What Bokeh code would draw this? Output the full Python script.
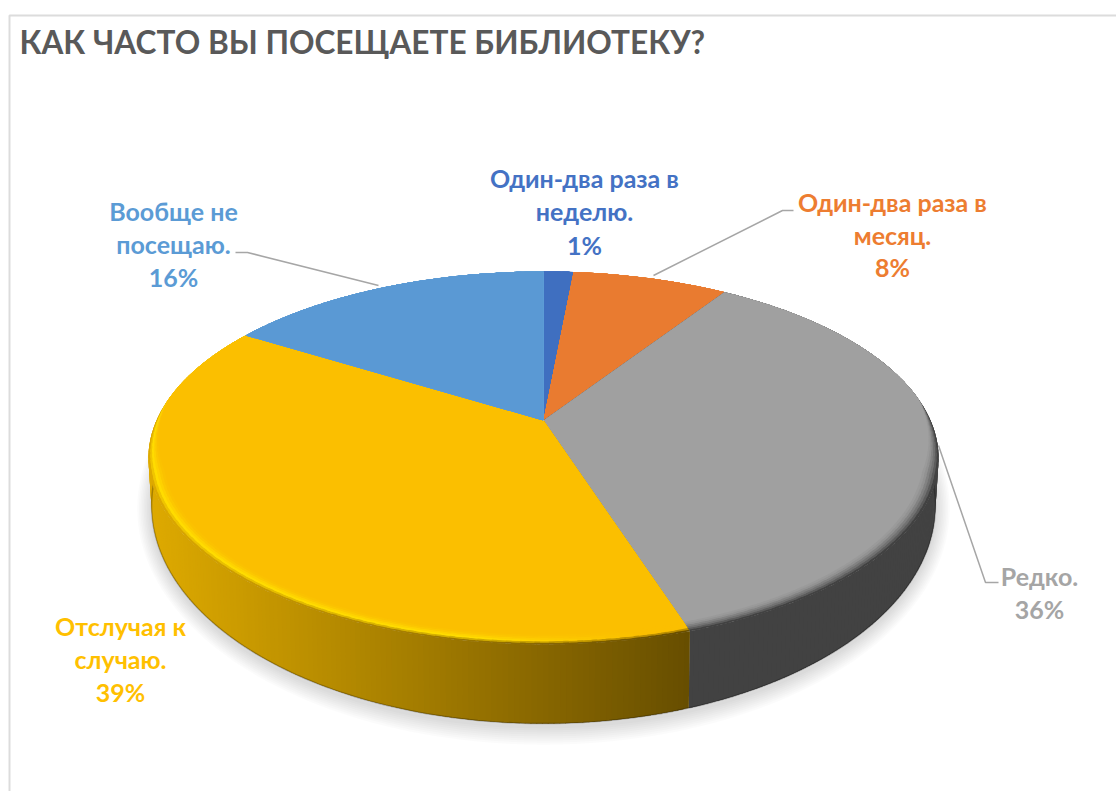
from bokeh.plotting import figure
from bokeh.embed import file_html
from bokeh.resources import INLINE
from bokeh.core.properties import value
import numpy as np

# --- data ---
categories = ["Один-два раза в неделю.", "Один-два раза в месяц.", "Редко.", "Отслучая к случаю.", "Вообще не посещаю."]
shares = [1.49, 7.71, 35.85, 38.75, 16.2]
percent_labels = ["1%", "8%", "36%", "39%", "16%"]
title_text = "КАК ЧАСТО ВЫ ПОСЕЩАЕТЕ БИБЛИОТЕКУ?"
top_colors = ["#3F6FC0", "#E97B30", "#A0A0A0", "#FBBF00", "#5A99D4"]
label_colors = ["#4472C4", "#ED7D31", "#A5A5A5", "#FFC000", "#5B9BD5"]
wall_left = [(0x2E, 0x52, 0x90), (0xB0, 0x55, 0x20), (0x42, 0x42, 0x42), (0xDE, 0xAA, 0x00), (0x3A, 0x70, 0xA0)]
wall_right = [(0x2E, 0x52, 0x90), (0xB0, 0x55, 0x20), (0x42, 0x42, 0x42), (0x66, 0x4D, 0x00), (0x3A, 0x70, 0xA0)]
bevel_peak = [(0x55, 0x85, 0xD8), (0xFF, 0x95, 0x40), (0x72, 0x72, 0x72), (0xFF, 0xDC, 0x00), (0x70, 0xB0, 0xE8)]

label_lines = [
    ([categories[0].rsplit(" ", 1)[0], categories[0].rsplit(" ", 1)[1], percent_labels[0]], 584, [177, 210, 244]),
    ([categories[1].rsplit(" ", 1)[0], categories[1].rsplit(" ", 1)[1], percent_labels[1]], 892, [201, 234, 266]),
    ([categories[2], percent_labels[2]], 1039, [575, 608]),
    (["Отслучая к", "случаю.", percent_labels[3]], 120, [625, 658, 691]),
    (["Вообще не", "посещаю.", percent_labels[4]], 173, [210, 243, 276]),
]
leaders = [
    ([653, 782, 793], [275, 210, 210]),
    ([938, 985, 998], [445, 582, 582]),
    ([235, 247, 378], [252, 252, 285]),
]

# --- projection of the disc (page-pixel coordinates) ---
HX, HY = 543.0, 420.0
A, B, K = 387.0, 179.0, 0.201
TOP_YC, TOP_RY = 457.5, 186.5
BOT_YC, BOT_RY = 505.0, 218.0
BOT_XS = 0.992


def project(theta, r=1.0):
    u, v = r * np.sin(theta), -r * np.cos(theta)
    d = 1 - K * v
    return HX + A * u / d, HY + B * v / d


def lower(x, y):
    return HX + (x - HX) * BOT_XS, BOT_YC + (y - TOP_YC) * BOT_RY / TOP_RY


def mix(c1, c2, t):
    return tuple(a + (b - a) * t for a, b in zip(c1, c2))


def css(c):
    return "#%02X%02X%02X" % tuple(int(round(a)) for a in c)


def hex2(c):
    return tuple(int(c[i:i + 2], 16) for i in (1, 3, 5))


def xfrac(x):
    return float(np.clip((x - 148) / (690 - 148), 0, 1))


def bevel_scale(theta, w):
    v = -np.cos(theta)
    return 1 - w * np.clip((v + 0.12) / 0.4, 0, 1)


cum = np.cumsum([0] + shares) / sum(shares) * 2 * np.pi

p = figure(width=1116, height=791, x_range=(0, 1116), y_range=(791, 0),
           output_backend="svg", toolbar_location=None, min_border=0)
p.axis.visible = False
p.grid.visible = False
p.outline_line_color = None
p.background_fill_color = "white"
p.border_fill_color = "white"

# frame
p.line([9, 9, 1116], [791, 15, 15], line_color="#DCDCDC", line_width=2)

# soft shadow beneath the disc
circle = np.linspace(0, 2 * np.pi, 240)
tx, ty = project(circle)
bx, by = lower(tx, ty)
for grow in range(18, 0, -2):
    sx = HX + (bx - HX) * (1 + grow * 0.8 / 392)
    sy = BOT_YC + 3 + (by - BOT_YC) * (1 + grow / 216)
    p.patch(sx, sy, fill_color="black", fill_alpha=0.016, line_color=None)

# side wall, as overlapping strips shaded along x
STEP = 0.012
for i in range(len(shares)):
    starts = np.arange(cum[i], cum[i + 1], STEP)
    wall_xs, wall_ys, wall_cols = [], [], []
    for a in starts:
        t = np.array([a, min(a + 2.2 * STEP, cum[i + 1])])
        x0, y0 = project(t)
        x1, y1 = lower(x0, y0)
        wall_xs.append([x0[0], x0[1], x1[1], x1[0]])
        wall_ys.append([y0[0], y0[1], y1[1], y1[0]])
        wall_cols.append(css(mix(wall_left[i], wall_right[i], xfrac(x0.mean()))))
    p.patches(wall_xs, wall_ys, fill_color=wall_cols, line_color=None)

# darker lower lip of the wall
lip_t = np.linspace(np.pi * 0.42, np.pi * 1.58, 200)
lx, ly = lower(*project(lip_t))
p.line(lx, ly, line_color="#000000", line_alpha=0.25, line_width=1.5)

# top face: bevel bands (outer to inner, as wedges) then the flat face
band_w = [0.0, 0.006, 0.012, 0.018, 0.024, 0.030]
band_mix = [(0.0, 0.0), (0.55, 0.0), (1.0, 0.0), (1.0, 0.35), (1.0, 0.7), (1.0, 0.88)]
FLAT_W = 0.036
BSTEP = 0.03
for i in range(len(shares)):
    base = hex2(top_colors[i])
    starts = np.arange(cum[i], cum[i + 1], BSTEP)
    for w, (to_peak, to_base) in zip(band_w, band_mix):
        xs, ys, cols = [], [], []
        for a in starts:
            t = np.linspace(a, min(a + 1.6 * BSTEP, cum[i + 1]), 5)
            x, y = project(t, bevel_scale(t, w))
            xs.append(np.r_[HX, x])
            ys.append(np.r_[HY, y])
            f = xfrac(x.mean())
            edge = mix(wall_left[i], wall_right[i], f)
            peak = mix(bevel_peak[i], base, float(np.clip((f - 0.6) / 0.3, 0, 1))) if i == 3 else bevel_peak[i]
            c = mix(mix(edge, peak, to_peak), base, to_base)
            cols.append(css(c))
        p.patches(xs, ys, fill_color=cols, line_color=None)
    t = np.linspace(cum[i], cum[i + 1], max(6, int((cum[i + 1] - cum[i]) / 0.01)))
    x, y = project(t, bevel_scale(t, FLAT_W))
    p.patch(np.r_[HX, x], np.r_[HY, y], fill_color=top_colors[i], line_color=None)

# leader lines
for lx_, ly_ in leaders:
    p.line(lx_, ly_, line_color="#A6A6A6", line_width=1.5)

# title and labels
p.text([19], [41], text=[title_text], text_font=value("Lato"), text_font_style="bold",
       text_font_size="31.6px", text_color="#595959", text_align="left", text_baseline="middle")
for (lines, cx, ys), col in zip(label_lines, label_colors):
    p.text([cx] * len(lines), ys, text=lines, text_font=value("Lato"), text_font_style="bold",
           text_font_size="25px", text_color=col, text_align="center", text_baseline="middle")

open("out.html", "w").write(file_html(p, INLINE))
